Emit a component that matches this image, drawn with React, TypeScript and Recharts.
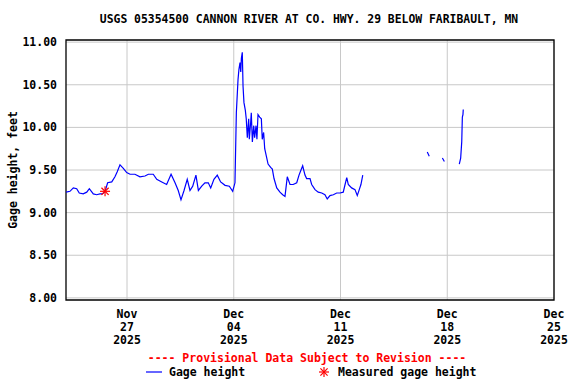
import React from "react";
import {
  ComposedChart, Line, Scatter, XAxis, YAxis, CartesianGrid, ReferenceArea,
} from "recharts";

// time in days since Nov 23 2025 00:00, gage height in feet (null = gap)
const times = [
  0.0, 0.26, 0.48, 0.7, 0.87, 1.13, 1.36, 1.53, 1.79, 2.01, 2.23, 2.39, 2.56, 2.73, 3.0,
  3.21, 3.36, 3.54, 3.76, 3.98, 4.2, 4.52, 4.85, 5.18, 5.4, 5.72, 5.95, 6.28, 6.6, 6.89,
  7.15, 7.36, 7.54, 7.74, 7.95, 8.13, 8.31, 8.52, 8.68, 8.9, 9.11, 9.33, 9.49, 9.7, 9.92,
  10.14, 10.43, 10.71, 10.93, 11.08, 11.17, 11.28, 11.34, 11.41, 11.46, 11.5, 11.56, 11.61,
  11.67, 11.76, 11.82, 11.89, 11.98, 12.02, 12.11, 12.15, 12.22, 12.31, 12.37, 12.46, 12.52,
  12.59, 12.7, 12.81, 12.87, 12.96, 13.03, 13.13, 13.25, 13.42, 13.53, 13.64, 13.82, 14.03,
  14.21, 14.36, 14.51, 14.69, 14.9, 15.13, 15.28, 15.41, 15.52, 15.67, 15.78, 16.0, 16.11,
  16.33, 16.54, 16.77, 16.98, 17.13, 17.31, 17.53, 17.75, 17.97, 18.18, 18.3, 18.41, 18.51,
  18.73, 18.95, 19.1, 19.23, 19.34, 19.46, 21.5, 23.69, 23.82, 24.2, 24.68, 24.81, 25.3,
  25.79, 25.88, 25.95, 25.99, 26.03, 26.05,
];
const heights = [
  9.24, 9.25, 9.29, 9.28, 9.23, 9.22, 9.24, 9.28, 9.22, 9.21, 9.22, 9.22, 9.25, 9.35, 9.36,
  9.42, 9.48, 9.56, 9.52, 9.47, 9.45, 9.45, 9.42, 9.43, 9.45, 9.45, 9.39, 9.36, 9.33, 9.45,
  9.35, 9.26, 9.15, 9.26, 9.39, 9.26, 9.31, 9.44, 9.26, 9.31, 9.35, 9.35, 9.29, 9.39, 9.44,
  9.36, 9.32, 9.31, 9.25, 9.35, 10.17, 10.56, 10.68, 10.76, 10.65, 10.81, 10.88, 10.48,
  10.29, 10.2, 10.1, 9.88, 10.1, 9.86, 10.06, 10.17, 9.83, 10.02, 9.88, 10.02, 9.86,
  10.15, 10.12, 10.1, 9.86, 9.94, 9.75, 9.67, 9.57, 9.53, 9.51, 9.4, 9.29, 9.24,
  9.21, 9.19, 9.42, 9.33, 9.33, 9.35, 9.44, 9.5, 9.55, 9.44, 9.4, 9.4, 9.33,
  9.27, 9.24, 9.23, 9.21, 9.16, 9.2, 9.21, 9.23, 9.23, 9.24, 9.33, 9.41, 9.33,
  9.29, 9.27, 9.2, 9.27, 9.33, 9.44, null, 9.71, 9.66, null, 9.64, 9.6, null,
  9.57, 9.64, 9.83, 10.12, 10.15, 10.21,
];

const measuredTimes = [2.56];
const measuredHeights = [9.25];

const tickDays = [4, 11, 18, 25, 32];
const tickMonths = ["Nov", "Dec", "Dec", "Dec", "Dec"];
const tickDates = ["27", "04", "11", "18", "25"];
const tickYears = ["2025", "2025", "2025", "2025", "2025"];
const yTicks = [8, 8.5, 9, 9.5, 10, 10.5, 11];

const rows = times.map((t, i) => ({ t, h: heights[i] }));
const measured = measuredTimes.map((t, i) => ({ t, h: measuredHeights[i] }));

const FONT = '"DejaVu Sans Mono", monospace';

function XTick({ x, y, payload }: any) {
  const i = tickDays.indexOf(payload.value);
  return (
    <text x={x} textAnchor="middle" fontFamily={FONT} fontWeight="bold" fontSize={11.5} fill="#000">
      <tspan x={x} y={y + 18}>{tickMonths[i]}</tspan>
      <tspan x={x} y={y + 31}>{tickDates[i]}</tspan>
      <tspan x={x} y={y + 44}>{tickYears[i]}</tspan>
    </text>
  );
}

function Asterisk({ cx, cy, r = 5 }: any) {
  const d = r * 0.72;
  return (
    <g stroke="#ff0000" strokeWidth={1.2}>
      <line x1={cx - r} y1={cy} x2={cx + r} y2={cy} />
      <line x1={cx} y1={cy - r} x2={cx} y2={cy + r} />
      <line x1={cx - d} y1={cy - d} x2={cx + d} y2={cy + d} />
      <line x1={cx - d} y1={cy + d} x2={cx + d} y2={cy - d} />
    </g>
  );
}

export default function App() {
  return (
    <div style={{ position: "absolute", left: 0, top: 0, width: 576, height: 384, background: "#fff" }}>
      <ComposedChart
        width={576}
        height={384}
        data={rows}
        margin={{ top: 40, right: 22, bottom: 0, left: 0 }}
      >
        <CartesianGrid stroke="#c8c8c8" strokeWidth={1} horizontalValues={yTicks} verticalValues={tickDays} />
        <XAxis
          type="number"
          dataKey="t"
          domain={[0, 32]}
          ticks={tickDays}
          interval={0}
          allowDataOverflow
          axisLine={false}
          tickLine={false}
          tickSize={0}
          tickMargin={0}
          tick={<XTick />}
          height={84}
        />
        <YAxis
          type="number"
          domain={[7.975, 11.025]}
          ticks={yTicks}
          interval={0}
          allowDataOverflow
          width={66}
          axisLine={false}
          tickLine={false}
          tickSize={0}
          tickMargin={9}
          tickFormatter={(v: number) => v.toFixed(2)}
          tick={{ fontFamily: FONT, fontWeight: "bold", fontSize: 11.5, fill: "#000" }}
        />
        <ReferenceArea x1={0} x2={32} y1={7.975} y2={11.025} fill="none" stroke="#000" strokeWidth={1.3} />
        <Line
          dataKey="h"
          type="linear"
          stroke="#0000ff"
          strokeWidth={1.2}
          dot={false}
          connectNulls={false}
          isAnimationActive={false}
        />
        <Scatter data={measured} dataKey="h" shape={<Asterisk />} isAnimationActive={false} />
      </ComposedChart>
      <svg
        width={576}
        height={384}
        style={{ position: "absolute", left: 0, top: 0, pointerEvents: "none" }}
        fontFamily={FONT}
        fontWeight="bold"
        fontSize={11.5}
      >
        <text x={309} y={23} textAnchor="middle" fontSize={11.4} fill="#000">
          USGS 05354500 CANNON RIVER AT CO. HWY. 29 BELOW FARIBAULT, MN
        </text>
        <text x={0} y={0} transform="translate(17,170) rotate(-90)" textAnchor="middle" fill="#000">
          Gage height, feet
        </text>
        <text x={307} y={362} textAnchor="middle" fill="#ff0000">
          ---- Provisional Data Subject to Revision ----
        </text>
        <line x1={146} y1={372} x2={162} y2={372} stroke="#0000ff" strokeWidth={1.2} />
        <text x={169} y={376} fill="#000">Gage height</text>
        <Asterisk cx={324} cy={372} />
        <text x={338} y={376} fill="#000">Measured gage height</text>
      </svg>
    </div>
  );
}
